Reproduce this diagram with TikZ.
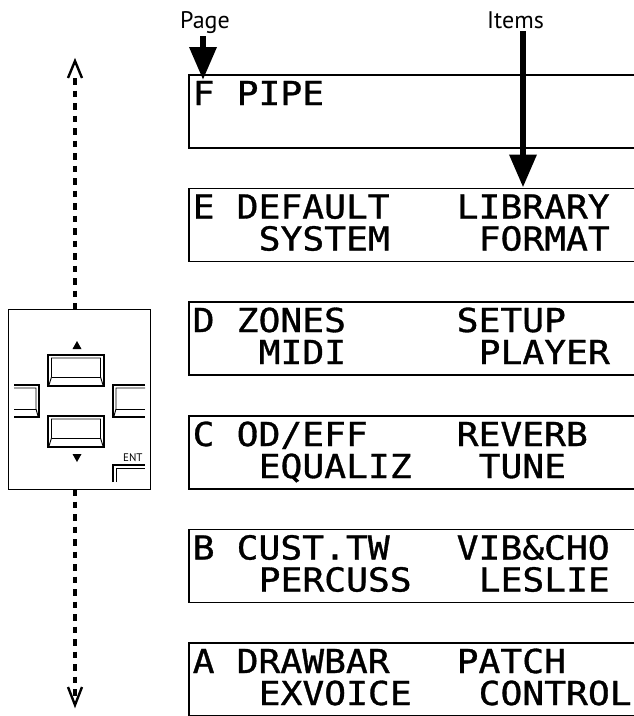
\documentclass[tikz,border=0pt]{standalone}
\usepackage{fontspec}
\setmainfont{PT Sans}
\newfontfamily\lcdfont[FakeStretch=1.1,FakeBold=1]{DejaVu Sans Mono}
\usetikzlibrary{arrows.meta}
\begin{document}
\begin{tikzpicture}[x=1pt,y=-1pt,
  lcd/.style={font=\lcdfont\fontsize{33}{33}\selectfont, inner sep=0pt, anchor=base west},
  disp/.style={draw, line width=1.6pt, minimum width=470pt, minimum height=73pt, inner sep=0pt, anchor=north west},
  lbl/.style={font=\fontsize{24}{24}\selectfont, inner sep=0pt, anchor=base west},
  bigarrow/.style={line width=6.5pt, -{Triangle[width=26pt,length=33pt]}},
  dashline/.style={line width=3.5pt, dash pattern=on 6.5pt off 6pt},
  vtip/.style={line width=2.4pt, line join=miter},
  key/.style={line width=2pt},
  keyin/.style={line width=0.9pt}]
\useasboundingbox (0,0) rectangle (634,716);
\clip (0,0) rectangle (634,716);

% display rows
\node[disp] (boxF) at (188,74) {};
\node[disp] (boxE) at (188,187.5) {};
\node[disp] (boxD) at (188,301) {};
\node[disp] (boxC) at (188,415) {};
\node[disp] (boxB) at (188,528.5) {};
\node[disp] (boxA) at (188,642) {};

% F
\node[lcd] (pF) at (192.5,105) {F};
\node[lcd] (lF) at (236.5,105) {PIPE};
% E
\node[lcd] (pE) at (192.5,218.5) {E};
\node[lcd] (l1E) at (236.5,218.5) {DEFAULT};
\node[lcd] (r1E) at (456.5,218.5) {LIBRARY};
\node[lcd] (l2E) at (258.5,250.5) {SYSTEM};
\node[lcd] (r2E) at (478.5,250.5) {FORMAT};
% D
\node[lcd] (pD) at (192.5,332) {D};
\node[lcd] (l1D) at (236.5,332) {ZONES};
\node[lcd] (r1D) at (456.5,332) {SETUP};
\node[lcd] (l2D) at (258.5,364) {MIDI};
\node[lcd] (r2D) at (478.5,364) {PLAYER};
% C
\node[lcd] (pC) at (192.5,446) {C};
\node[lcd] (l1C) at (236.5,446) {OD/EFF};
\node[lcd] (r1C) at (456.5,446) {REVERB};
\node[lcd] (l2C) at (258.5,478) {EQUALIZ};
\node[lcd] (r2C) at (478.5,478) {TUNE};
% B
\node[lcd] (pB) at (192.5,559.5) {B};
\node[lcd] (l1B) at (236.5,559.5) {CUST.TW};
\node[lcd] (r1B) at (456.5,559.5) {VIB\&CHO};
\node[lcd] (l2B) at (258.5,591.5) {PERCUSS};
\node[lcd] (r2B) at (478.5,591.5) {LESLIE};
% A
\node[lcd] (pA) at (192.5,673) {A};
\node[lcd] (l1A) at (236.5,673) {DRAWBAR};
\node[lcd] (r1A) at (456.5,673) {PATCH};
\node[lcd] (l2A) at (258.5,705) {EXVOICE};
\node[lcd] (r2A) at (478.5,705) {CONTROL};

% labels and arrows
\node[lbl] (page) at (180,28) {Page};
\node[lbl] (items) at (487,28) {Items};
\coordinate (pagetip) at (203,80);
\coordinate (itemstip) at (523,187.5);
\draw[bigarrow] (page.south -| pagetip) ++(0,3) -- (pagetip);
\draw[bigarrow] (items.south -| itemstip) ++(0,3) -- (itemstip);

% keypad panel
\node[draw, line width=1.4pt, minimum width=142pt, minimum height=180pt, inner sep=0pt, anchor=north west] (panel) at (8,309) {};
\coordinate (ptop) at (75,309);
\coordinate (pbot) at (75,489);
\coordinate (uptip) at (75,61);
\coordinate (downtip) at (75,705);

% up button
\draw[key] (48,355) rectangle (104,386);
\draw[keyin] (49,385) -- (51.5,377) -- (51.5,358) -- (100.5,358) -- (100.5,377) -- (103,385);
\draw[keyin] (51.5,377) -- (100.5,377);
% down button
\draw[key] (48,416) rectangle (104,447);
\draw[keyin] (49,446) -- (51.5,438) -- (51.5,419) -- (100.5,419) -- (100.5,438) -- (103,446);
\draw[keyin] (51.5,438) -- (100.5,438);
% left button
\draw[key] (14,385) -- (39,385) -- (39,417) -- (14,417);
\draw[keyin] (14,388) -- (36,388) -- (36,409) -- (38,416);
\draw[keyin] (14,409) -- (36,409);
% right button
\draw[key] (145,385) -- (113,385) -- (113,417) -- (145,417);
\draw[keyin] (145,388) -- (116,388) -- (116,409) -- (114,416);
\draw[keyin] (116,409) -- (145,409);
% ENT button
\node[font=\fontsize{11}{11}\selectfont, inner sep=0pt, anchor=base west] (ent) at (123,461) {ENT};
\draw[key] (113,482) -- (113,465) -- (145,465);
\draw[keyin] (116.5,482) -- (116.5,468.5) -- (145,468.5);
% triangles
\fill (77,341) -- (81.5,349) -- (72.5,349) -- cycle;
\fill (77,462) -- (81.5,454) -- (72.5,454) -- cycle;

% dashed scroll arrows
\draw[dashline] (75,78) -- (ptop);
\draw[dashline] (pbot) -- (75,700);
\draw[vtip] (68,78) -- (uptip) -- (82,78);
\draw[vtip] (68,687) -- (downtip) -- (82,687);
\end{tikzpicture}
\end{document}
